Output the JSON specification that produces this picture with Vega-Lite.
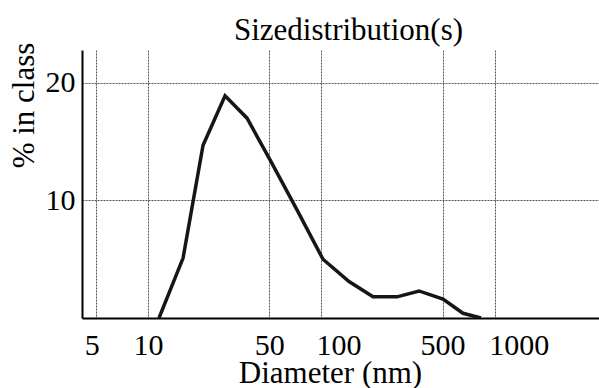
{
  "$schema": "https://vega.github.io/schema/vega-lite/v6.json",
  "width": 517,
  "height": 268,
  "autosize": {"type": "none"},
  "padding": {"left": 82, "top": 50, "right": 0, "bottom": 70},
  "background": "white",
  "title": {
    "text": "Sizedistribution(s)",
    "font": "Liberation Serif",
    "fontSize": 31,
    "fontWeight": "normal",
    "color": "black",
    "anchor": "middle",
    "frame": "group",
    "baseline": "alphabetic",
    "offset": 11,
    "dx": 8,
    "dy": 40
  },
  "config": {
    "view": {"stroke": null},
    "axis": {
      "labelFont": "Liberation Serif",
      "titleFont": "Liberation Serif",
      "labelColor": "black",
      "titleColor": "black",
      "titleFontWeight": "normal",
      "domainColor": "black",
      "domainWidth": 2,
      "ticks": false,
      "gridColor": "#555",
      "gridDash": [2, 1],
      "gridWidth": 1,
      "gridOpacity": 1
    }
  },
  "data": {
    "values": [
      {"d": 11.57, "p": 0},
      {"d": 15.92, "p": 5.1},
      {"d": 20.76, "p": 14.7},
      {"d": 27.81, "p": 18.9},
      {"d": 37.24, "p": 17.0},
      {"d": 51.2, "p": 13.3},
      {"d": 72.3, "p": 9.2},
      {"d": 102.1, "p": 5.0},
      {"d": 144.3, "p": 3.1},
      {"d": 198.4, "p": 1.8},
      {"d": 272.9, "p": 1.8},
      {"d": 365.5, "p": 2.3},
      {"d": 502.6, "p": 1.6},
      {"d": 655.6, "p": 0.4},
      {"d": 832.6, "p": 0}
    ]
  },
  "mark": {"type": "line", "color": "#1a1414", "strokeWidth": 3.5, "strokeJoin": "miter", "clip": true},
  "encoding": {
    "x": {
      "field": "d",
      "type": "quantitative",
      "scale": {"type": "log", "domain": [4.16, 3990], "nice": false},
      "axis": {
        "title": "Diameter (nm)",
        "titleFontSize": 31,
        "titleBaseline": "alphabetic",
        "titleAnchor": "start",
        "titleAlign": "center",
        "titleX": 248,
        "titleY": 64,
        "values": [5, 10, 50, 100, 500, 1000],
        "format": "d",
        "labelFontSize": 30,
        "labelPadding": 12,
        "labelBaseline": "top",
        "labelFlush": false,
        "labelOverlap": false,
        "labelOffset": {"expr": "datum.value == 100 ? 17 : datum.value == 1000 ? 24 : datum.value == 5 ? -4 : 0"}
      }
    },
    "y": {
      "field": "p",
      "type": "quantitative",
      "scale": {"domain": [0, 22.8], "nice": false},
      "axis": {
        "title": "% in class",
        "titleFontSize": 31,
        "titleAngle": -90,
        "titleBaseline": "alphabetic",
        "titleAlign": "center",
        "titleAnchor": "start",
        "titleX": -49,
        "titleY": 55,
        "values": [10, 20],
        "labelFontSize": 30,
        "labelPadding": 7,
        "labelFlush": false,
        "labelOverlap": false
      }
    }
  }
}
